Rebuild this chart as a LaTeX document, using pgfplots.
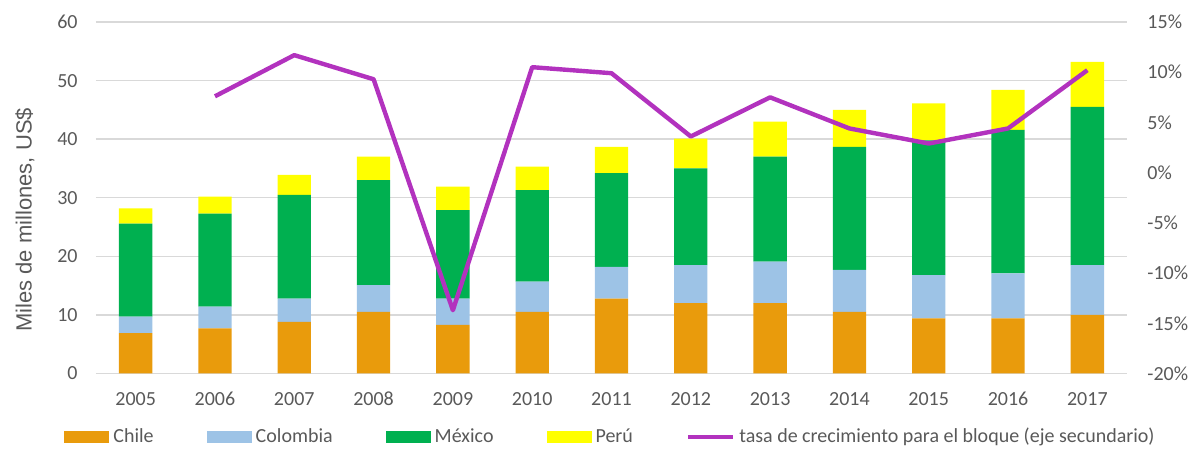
\documentclass[border=0pt]{standalone}
\usepackage{fontspec}
\setmainfont{Carlito}
\newfontfamily\arialf{Liberation Sans}
\usepackage{pgfplots}
\usepackage{pgfplotstable}
\pgfplotsset{compat=1.18}
\definecolor{cChile}{HTML}{E99B0C}
\definecolor{cCol}{HTML}{9DC3E6}
\definecolor{cMex}{HTML}{00B050}
\definecolor{cPeru}{HTML}{FFFF00}
\definecolor{cLine}{HTML}{B232BE}
\definecolor{txt}{HTML}{595959}
\definecolor{gridc}{HTML}{D9D9D9}

\pgfplotstableread{
x chile col mex peru
0 6.9 2.8 15.9 2.6
1 7.7 3.7 15.9 2.9
2 8.8 4.0 17.7 3.4
3 10.5 4.6 17.9 4.0
4 8.3 4.5 15.1 4.0
5 10.5 5.2 15.6 4.0
6 12.8 5.4 16.0 4.5
7 12.0 6.5 16.5 5.1
8 12.0 7.1 17.9 6.0
9 10.5 7.2 21.0 6.3
10 9.4 7.4 23.0 6.3
11 9.4 7.7 24.5 6.8
12 10.0 8.5 27.0 7.7
}\bars

\pgfplotstableread{
x g
1 7.6
2 11.7
3 9.3
4 -13.7
5 10.5
6 9.9
7 3.6
8 7.5
9 4.4
10 2.9
11 4.4
12 10.2
}\growth

\pgfplotsset{
  excelbox/.style={legend image code/.code={\fill[##1] (0pt,-2.9pt) rectangle (22.5pt,2.9pt);}},
  excelline/.style={legend image code/.code={\draw[##1] (0pt,0pt) -- (22.5pt,0pt);}},
  every axis/.append style={
    scale only axis, width=515.5pt, height=175.75pt,
    xmin=-0.5, xmax=12.5,
    axis line style={draw=none}, tick style={draw=none},
    /pgf/number format/assume math mode=true,
    tick label style={font=\fontsize{10}{12}\selectfont, text=txt},
  }
}

\begin{document}
\begin{tikzpicture}
\begin{axis}[
  ymin=0, ymax=60, ytick={0,10,...,60},
  ymajorgrids, grid style={draw=gridc, line width=0.7pt},
  xtick={0,...,12},
  xticklabels={2005,2006,2007,2008,2009,2010,2011,2012,2013,2014,2015,2016,2017},
  xticklabel style={yshift=-5.4pt, text height=7pt, text depth=0pt},
  yticklabel style={xshift=-5.7pt},
  ybar stacked, bar width=0.42,
  ylabel={Miles de millones, US\$},
  ylabel style={at={(axis description cs:-0.0689,0.437)}, anchor=center, font=\arialf\fontsize{11}{13}\selectfont, text=txt},
  legend columns=5,
  legend style={at={(axis description cs:0.5,-0.1807)}, anchor=center, draw=none, fill=none,
    font=\fontsize{10}{12}\selectfont, text=txt,
    /tikz/every odd column/.append style={column sep=0pt},
    /tikz/every even column/.append style={column sep=24.5pt},
    inner sep=0pt},
]
\addplot[fill=cChile, draw=none, excelbox] table[x=x, y=chile] {\bars};
\addlegendentry{Chile}
\addplot[fill=cCol, draw=none, excelbox] table[x=x, y=col] {\bars};
\addlegendentry{Colombia}
\addplot[fill=cMex, draw=none, excelbox] table[x=x, y=mex] {\bars};
\addlegendentry{México}
\addplot[fill=cPeru, draw=none, excelbox] table[x=x, y=peru] {\bars};
\addlegendentry{Perú}
\addlegendimage{cLine, line width=2.2pt, excelline}
\addlegendentry{tasa de crecimiento para el bloque (eje secundario)}
\end{axis}
\begin{axis}[
  ymin=-20, ymax=15, ytick={-20,-15,...,15},
  axis y line*=right,
  xtick=\empty,
  yticklabel={\pgfmathprintnumber{\tick}\%},
  yticklabel style={anchor=west, xshift=6.7pt},
]
\addplot[cLine, line width=2.2pt, line join=round, mark=none] table[x=x, y=g] {\growth};
\end{axis}
\pgfresetboundingbox
\path[use as bounding box] (current axis.south west) ++(-48pt,-39.75pt) rectangle ++(597pt,226.5pt);
\end{tikzpicture}
\end{document}
